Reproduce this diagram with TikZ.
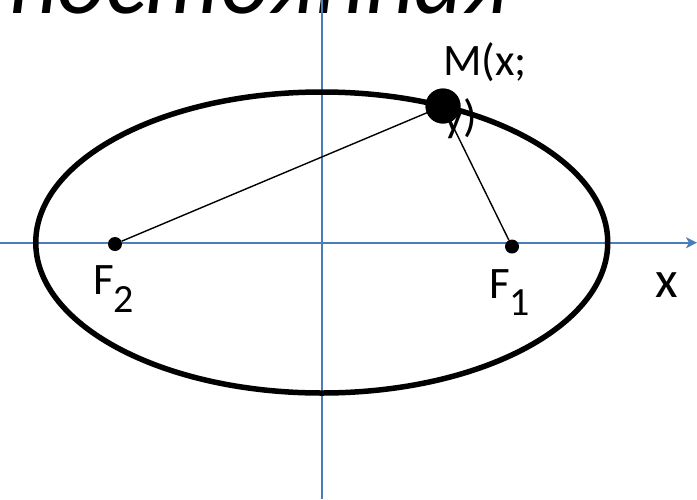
\documentclass[tikz,border=0pt]{standalone}
\usepackage{fontspec}
\setmainfont{Carlito}
\usetikzlibrary{arrows.meta}
\definecolor{axisblue}{HTML}{4A7EBB}
\begin{document}
\begin{tikzpicture}[x=1pt,y=-1pt,
  axisline/.style={draw=axisblue,line width=2pt},
  dotnode/.style={circle,fill=black,inner sep=0pt,minimum size=#1},
  conn/.style={draw=black,line width=1.4pt},
  lbl/.style={inner sep=0pt,font=\fontsize{45}{56}\selectfont}]
\useasboundingbox (0,0) rectangle (697,499);
\clip (0,0) rectangle (697,499);
% title (cut off at the top)
\node[anchor=base west,inner sep=0pt,font=\fontsize{95}{95}\selectfont\itshape] (title) at (8,13) {постоянная};
% axes
\coordinate (xs) at (0,242.7);
\coordinate (xe) at (697,242.7);
\coordinate (ys) at (321.7,0);
\coordinate (ye) at (321.7,499);
\draw[axisline,-{Stealth[length=11pt,width=11pt,inset=3pt]}] (xs) -- (xe);
\draw[axisline] (ys) -- (ye);
% ellipse
\draw[line width=5.5pt] (321.75,242.5) ellipse [x radius=286, y radius=150.5];
% points
\node[dotnode=14pt] (F2) at (115,244) {};
\node[dotnode=14pt] (F1) at (512,246.5) {};
\node[dotnode=35pt] (M) at (443,106) {};
% connectors
\draw[conn] (F2) -- (M.center);
\draw[conn] (F1) -- (M.center);
\node[dotnode=35pt] at (M) {};
% labels (base anchor = baseline of the last line)
\node[lbl,anchor=base west,align=left] (Ml) at (443,131) {M(x;\\y)};
\node[lbl,anchor=base west] (F2l) at (93,294) {F\raisebox{-18pt}{\fontsize{40}{40}\selectfont 2}};
\node[lbl,anchor=base west] (F1l) at (489,298) {F\raisebox{-17pt}{\fontsize{40}{40}\selectfont 1}};
\node[inner sep=0pt,anchor=base west,font=\fontsize{52}{52}\selectfont] (xl) at (655,297) {x};
\end{tikzpicture}
\end{document}
